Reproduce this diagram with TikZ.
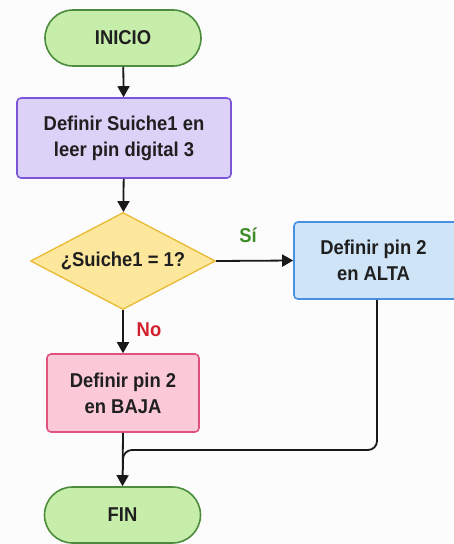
\documentclass[tikz,border=0pt]{standalone}
\usepackage{fontspec}
\setmainfont{Liberation Sans}
\newfontfamily\boxfont[FakeStretch=0.92]{Liberation Sans}
\usetikzlibrary{shapes.geometric,arrows.meta,calc}
\definecolor{bgc}{HTML}{FCFCFC}
\definecolor{gfill}{HTML}{C6EEAA}
\definecolor{gline}{HTML}{4C8C3C}
\definecolor{pfill}{HTML}{DCD2F7}
\definecolor{pline}{HTML}{7D55DA}
\definecolor{yfill}{HTML}{FDE79C}
\definecolor{yline}{HTML}{E9B934}
\definecolor{bfill}{HTML}{D0E4F8}
\definecolor{bline}{HTML}{4A90E2}
\definecolor{rfill}{HTML}{FBC9D7}
\definecolor{rline}{HTML}{E0527C}
\definecolor{sigreen}{HTML}{3F8C2A}
\definecolor{nored}{HTML}{D2202C}
\tikzset{
  txt/.style={font=\boxfont\bfseries\fontsize{20}{26}\selectfont, align=center, text=black!88},
  term/.style={txt, draw=gline, fill=gfill, line width=1.6pt, rounded corners=28pt, minimum width=156pt, minimum height=56pt, inner sep=0pt},
  procbox/.style={txt, line width=1.6pt, rounded corners=4pt, inner sep=0pt},
  decbox/.style={diamond, draw=yline, fill=yfill, line width=1.3pt, minimum width=185pt, minimum height=97pt, inner sep=0pt},
  conn/.style={line width=1.8pt, black!90, -{Triangle[width=12pt,length=11pt]}},
  plainconn/.style={line width=1.8pt, black!90},
  lbl/.style={font=\boxfont\bfseries\fontsize{20}{22}\selectfont}
}
\begin{document}
\begin{tikzpicture}[x=1pt,y=-1pt]
\fill[bgc] (0,0) rectangle (453,544);
\useasboundingbox (0,0) rectangle (453,544);
\node[term] (inicio) at (123,38) {INICIO};
\node[procbox, draw=pline, fill=pfill, minimum width=214pt, minimum height=80pt] (def1) at (124,138) {Definir Suiche1 en\\leer pin digital 3};
\node[decbox] (dec) at (123,261) {};
\node[txt] (dect) at (dec.center) {¿Suiche1 = 1?};
\node[procbox, draw=bline, fill=bfill, minimum width=166pt, minimum height=77pt] (alta) at (377,260.5) {};
\node[txt] (altat) at (373.5,260.5) {Definir pin 2\\en ALTA};
\node[procbox, draw=rline, fill=rfill, minimum width=152pt, minimum height=78pt] (baja) at (123,393) {Definir pin 2\\en BAJA};
\node[term] (fin) at (122.5,515) {FIN};
\draw[conn] (inicio) -- (def1);
\draw[conn] (def1) -- (dec);
\draw[conn] (dec.east) -- (alta.west);
\node[lbl, text=sigreen] (si) at (248,235) {Sí};
\draw[conn] (dec.south) -- (baja.north);
\node[lbl, text=nored] (no) at (149,330) {No};
\draw[conn] (baja.south) -- (fin.north);
\coordinate (m1) at (377,450);
\coordinate (m2) at (123,450);
\coordinate (m3) at (123,470);
\draw[plainconn, rounded corners=9pt] (alta.south) -- (m1) -- (m2) -- (m3);
\end{tikzpicture}
\end{document}
